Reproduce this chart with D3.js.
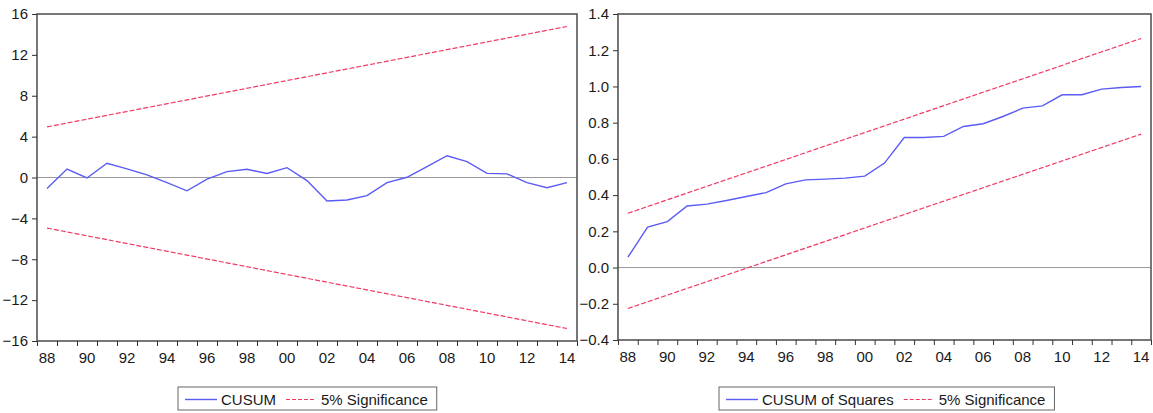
<!DOCTYPE html>
<html><head><meta charset="utf-8">
<script src="https://cdn.jsdelivr.net/npm/d3@7"></script>
<style>
html,body{margin:0;padding:0;background:#fff;}
svg{display:block;font-family:"Liberation Sans",Arial,Helvetica,sans-serif;}
</style></head>
<body><svg id="chart" width="1153" height="413"></svg>
<script>
// ---- data ----
const years = [1988,1989,1990,1991,1992,1993,1994,1995,1996,1997,1998,1999,2000,2001,2002,2003,2004,2005,2006,2007,2008,2009,2010,2011,2012,2013,2014];
const cusum = [-1.08,0.83,-0.05,1.39,0.85,0.25,-0.5,-1.3,-0.15,0.57,0.8,0.4,0.96,-0.3,-2.3,-2.2,-1.78,-0.5,0.02,1.06,2.13,1.55,0.4,0.35,-0.5,-1.0,-0.5];
const cusumSigYears = [1988,2014];
const cusumUpper = [4.95,14.78];
const cusumLower = [-4.95,-14.78];
const cusumsq = [0.057,0.223,0.254,0.34,0.35,0.37,0.392,0.414,0.462,0.484,0.488,0.494,0.505,0.577,0.718,0.718,0.724,0.779,0.794,0.834,0.88,0.893,0.954,0.954,0.985,0.994,1.0];
const sqSigYears = [1988,2014];
const sqUpper = [0.30,1.265];
const sqLower = [-0.226,0.737];
const leftYTicks = [16,12,8,4,0,-4,-8,-12,-16];
const rightYTicks = [1.4,1.2,1.0,0.8,0.6,0.4,0.2,0.0,-0.2,-0.4];
const xLabelYears = [1988,1990,1992,1994,1996,1998,2000,2002,2004,2006,2008,2010,2012,2014];
const legendLeft = ["CUSUM","5% Significance"];
const legendRight = ["CUSUM of Squares","5% Significance"];

const svg = d3.select("#chart");
const BLUE = "#5b5bf5", RED = "#f03a64", FRAME = "#555", TXT = "#1a1a1a";
const FS = 15;

function panel(opt){
  const g = svg.append("g");
  const x = d3.scaleLinear().domain([1987.5,2014.5]).range([opt.x0,opt.x1]);
  const y = d3.scaleLinear().domain(opt.ydom).range([opt.y1,opt.y0]);
  // zero line
  g.append("line").attr("x1",opt.x0).attr("x2",opt.x1).attr("y1",y(0)).attr("y2",y(0))
    .attr("stroke","#9a9a9a").attr("stroke-width",1);
  // significance
  const sl = d3.line().x(d=>x(d[0])).y(d=>y(d[1]));
  [opt.up,opt.lo].forEach(arr=>{
    g.append("path").datum(opt.sigYears.map((yr,i)=>[yr,arr[i]])).attr("d",sl)
      .attr("fill","none").attr("stroke",RED).attr("stroke-width",1.2).attr("stroke-dasharray","5,2");
  });
  // main series
  g.append("path").datum(years.map((yr,i)=>[yr,opt.vals[i]])).attr("d",sl)
    .attr("fill","none").attr("stroke",BLUE).attr("stroke-width",1.4);
  // frame
  g.append("rect").attr("x",opt.x0).attr("y",opt.y0).attr("width",opt.x1-opt.x0).attr("height",opt.y1-opt.y0)
    .attr("fill","none").attr("stroke",FRAME).attr("stroke-width",1.6);
  // y axis
  const ya = d3.axisLeft(y).tickValues(opt.yticks).tickSize(5).tickPadding(4).tickFormat(opt.yfmt);
  const yg = g.append("g").attr("transform",`translate(${opt.x0},0)`).call(ya);
  yg.select(".domain").remove();
  yg.selectAll("line").attr("stroke","#333");
  yg.selectAll("text").attr("font-size",FS).attr("fill",TXT);
  // x axis ticks at year boundaries
  const bounds = d3.range(1987.5,2015,1);
  const xa = d3.axisBottom(x).tickValues(bounds).tickSize(5).tickFormat("");
  const xg = g.append("g").attr("transform",`translate(0,${opt.y1})`).call(xa);
  xg.select(".domain").remove();
  xg.selectAll("line").attr("stroke","#333");
  g.selectAll("text.xl").data(xLabelYears).enter().append("text").attr("class","xl")
    .attr("x",d=>x(d)).attr("y",opt.y1+22).attr("text-anchor","middle")
    .attr("font-size",FS).attr("fill",TXT).text(d=>String(d%100).padStart(2,"0"));
  // legend
  const L = opt.leg;
  const lg = g.append("g");
  lg.append("rect").attr("x",L.x).attr("y",L.y).attr("width",L.w).attr("height",L.h)
    .attr("fill","#fff").attr("stroke","#666").attr("stroke-width",1);
  const cy = L.y + L.h/2 + 1;
  lg.append("line").attr("x1",L.x+7).attr("x2",L.x+39).attr("y1",cy).attr("y2",cy).attr("stroke",BLUE).attr("stroke-width",1.4);
  const t1 = lg.append("text").attr("x",L.x+43).attr("y",cy+5).attr("font-size",FS).attr("fill",TXT).text(L.labels[0]);
  const w1 = t1.node().getComputedTextLength();
  const sx = L.x+43+w1+10;
  lg.append("line").attr("x1",sx).attr("x2",sx+30).attr("y1",cy).attr("y2",cy).attr("stroke",RED).attr("stroke-width",1.2).attr("stroke-dasharray","4,2");
  const t2 = lg.append("text").attr("x",sx+35).attr("y",cy+5).attr("font-size",FS).attr("fill",TXT).text(L.labels[1]);
  const w2 = t2.node().getComputedTextLength();
  lg.select("rect").attr("width", sx+35+w2+9-L.x);
}

panel({x0:37,x1:577,y0:14,y1:341,ydom:[-16,16],yticks:leftYTicks,yfmt:d3.format("d"),
  vals:cusum,sigYears:cusumSigYears,up:cusumUpper,lo:cusumLower,
  leg:{x:178,y:387,w:259,h:23,labels:legendLeft}});
panel({x0:618,x1:1151,y0:14,y1:340,ydom:[-0.4,1.4],yticks:rightYTicks,yfmt:d3.format(".1f"),
  vals:cusumsq,sigYears:sqSigYears,up:sqUpper,lo:sqLower,
  leg:{x:719,y:387,w:333,h:23,labels:legendRight}});
</script></body></html>
